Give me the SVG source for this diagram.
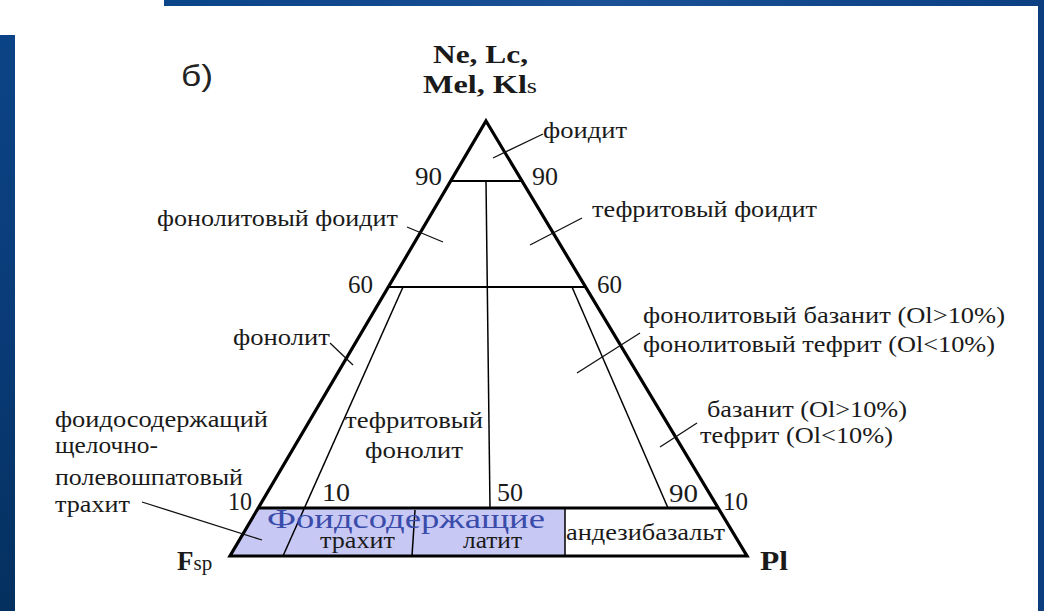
<svg xmlns="http://www.w3.org/2000/svg" width="1044" height="611" viewBox="0 0 1044 611">
<defs>
<linearGradient id="gl" x1="0" y1="0" x2="0" y2="1">
<stop offset="0" stop-color="#0b4486"/>
<stop offset="0.5" stop-color="#0a3b78"/>
<stop offset="1" stop-color="#04305f"/>
</linearGradient>
<linearGradient id="gt" x1="0" y1="0" x2="1" y2="0">
<stop offset="0" stop-color="#0a4489"/>
<stop offset="0.5" stop-color="#1a5096"/>
<stop offset="1" stop-color="#0b3f82"/>
</linearGradient>
</defs>
<style>
.edge{fill:none;stroke:#000;stroke-width:3.2;stroke-linejoin:miter}
.mid{stroke:#000;stroke-width:2.2;fill:none}
.thin{stroke:#000;stroke-width:1.5;fill:none}
.lead{stroke:#111;stroke-width:1.3;fill:none}
</style>
<rect width="1044" height="611" fill="#fff"/>
<g id="background">
<rect x="164" y="0" width="880" height="6" fill="url(#gt)"/>
<rect x="0" y="35" width="15" height="576" fill="url(#gl)"/>
<rect x="1038" y="0" width="6" height="611" fill="#0c3d7d"/>
</g>
<g id="fill-zone">
<polygon points="258,508 565,508 565,556 230,556" fill="#c8c8f5"/>
</g>
<g id="connectors">
<line class="mid" x1="450.7" y1="181" x2="522" y2="181"/>
<line class="mid" x1="388.3" y1="287" x2="585.6" y2="287"/>
<line class="edge" x1="258" y1="508" x2="718" y2="508"/>
<line class="thin" x1="486" y1="181" x2="490" y2="508"/>
<line class="thin" x1="403" y1="287" x2="283" y2="556"/>
<line class="thin" x1="572" y1="287" x2="668" y2="508"/>
<line class="thin" x1="565" y1="508" x2="565" y2="556"/>
<line class="thin" x1="415" y1="510" x2="412" y2="556"/>
<polygon class="edge" points="486,121 747,556 230,556"/>
<line class="lead" x1="543" y1="134" x2="493" y2="158"/>
<line class="lead" x1="407" y1="227" x2="443" y2="242"/>
<line class="lead" x1="582" y1="218" x2="530" y2="245"/>
<line class="lead" x1="330" y1="343" x2="353" y2="365"/>
<line class="lead" x1="640" y1="333" x2="577" y2="373"/>
<line class="lead" x1="697" y1="423" x2="660" y2="447"/>
<line class="lead" x1="142" y1="502" x2="262" y2="540"/>
</g>
<g id="title">
<text x="181" y="86" font-family="Liberation Sans, Arial, sans-serif" font-size="30" fill="#222" textLength="32" lengthAdjust="spacingAndGlyphs">б)</text>
</g>
<g id="apex-label" fill="#1a1a1a">
<text x="433" y="63" font-family="Liberation Serif, Times New Roman, serif" font-weight="bold" font-size="26" textLength="95" lengthAdjust="spacingAndGlyphs">Ne, Lc,</text>
<text x="423" y="93" font-family="Liberation Serif, Times New Roman, serif" font-weight="bold" font-size="26" textLength="114" lengthAdjust="spacingAndGlyphs">Mel, Kl<tspan font-weight="normal" font-size="21">s</tspan></text>
</g>
<g id="corner-labels" fill="#1a1a1a">
<text x="177" y="570" font-family="Liberation Serif, Times New Roman, serif" font-weight="bold" font-size="27">F<tspan font-weight="normal" font-size="21">sp</tspan></text>
<text x="760" y="570" font-family="Liberation Serif, Times New Roman, serif" font-weight="bold" font-size="27" textLength="28" lengthAdjust="spacingAndGlyphs">Pl</text>
</g>
<g id="scale" fill="#1a1a1a">
<text x="415" y="185" font-family="Liberation Serif, Times New Roman, serif" font-size="25" textLength="27" lengthAdjust="spacingAndGlyphs">90</text>
<text x="532" y="185" font-family="Liberation Serif, Times New Roman, serif" font-size="25" textLength="26" lengthAdjust="spacingAndGlyphs">90</text>
<text x="348" y="293" font-family="Liberation Serif, Times New Roman, serif" font-size="25" textLength="25" lengthAdjust="spacingAndGlyphs">60</text>
<text x="597" y="293" font-family="Liberation Serif, Times New Roman, serif" font-size="25" textLength="25" lengthAdjust="spacingAndGlyphs">60</text>
<text x="228" y="510" font-family="Liberation Serif, Times New Roman, serif" font-size="25" textLength="24" lengthAdjust="spacingAndGlyphs">10</text>
<text x="322" y="501" font-family="Liberation Serif, Times New Roman, serif" font-size="25" textLength="28" lengthAdjust="spacingAndGlyphs">10</text>
<text x="497" y="501" font-family="Liberation Serif, Times New Roman, serif" font-size="25" textLength="26" lengthAdjust="spacingAndGlyphs">50</text>
<text x="669" y="502" font-family="Liberation Serif, Times New Roman, serif" font-size="25" textLength="29" lengthAdjust="spacingAndGlyphs">90</text>
<text x="723" y="510" font-family="Liberation Serif, Times New Roman, serif" font-size="25" textLength="25" lengthAdjust="spacingAndGlyphs">10</text>
</g>
<g id="field-labels" fill="#1a1a1a">
<text x="543" y="138" font-family="Liberation Serif, Times New Roman, serif" font-size="23" textLength="84" lengthAdjust="spacingAndGlyphs">фоидит</text>
<text x="157" y="226" font-family="Liberation Serif, Times New Roman, serif" font-size="23" textLength="241" lengthAdjust="spacingAndGlyphs">фонолитовый фоидит</text>
<text x="592" y="217" font-family="Liberation Serif, Times New Roman, serif" font-size="23" textLength="225" lengthAdjust="spacingAndGlyphs">тефритовый фоидит</text>
<text x="643" y="323" font-family="Liberation Serif, Times New Roman, serif" font-size="23" textLength="362" lengthAdjust="spacingAndGlyphs">фонолитовый базанит (Ol&gt;10%)</text>
<text x="643" y="352" font-family="Liberation Serif, Times New Roman, serif" font-size="23" textLength="352" lengthAdjust="spacingAndGlyphs">фонолитовый тефрит (Ol&lt;10%)</text>
<text x="233" y="345" font-family="Liberation Serif, Times New Roman, serif" font-size="23" textLength="97" lengthAdjust="spacingAndGlyphs">фонолит</text>
<text x="345" y="428" font-family="Liberation Serif, Times New Roman, serif" font-size="23" textLength="138" lengthAdjust="spacingAndGlyphs">тефритовый</text>
<text x="365" y="458" font-family="Liberation Serif, Times New Roman, serif" font-size="23" textLength="98" lengthAdjust="spacingAndGlyphs">фонолит</text>
<text x="707" y="417" font-family="Liberation Serif, Times New Roman, serif" font-size="23" textLength="200" lengthAdjust="spacingAndGlyphs">базанит (Ol&gt;10%)</text>
<text x="700" y="443" font-family="Liberation Serif, Times New Roman, serif" font-size="23" textLength="193" lengthAdjust="spacingAndGlyphs">тефрит (Ol&lt;10%)</text>
<text x="55" y="427" font-family="Liberation Serif, Times New Roman, serif" font-size="23" textLength="213" lengthAdjust="spacingAndGlyphs">фоидосодержащий</text>
<text x="55" y="453" font-family="Liberation Serif, Times New Roman, serif" font-size="23" textLength="103" lengthAdjust="spacingAndGlyphs">щелочно-</text>
<text x="55" y="485" font-family="Liberation Serif, Times New Roman, serif" font-size="23" textLength="188" lengthAdjust="spacingAndGlyphs">полевошпатовый</text>
<text x="55" y="512" font-family="Liberation Serif, Times New Roman, serif" font-size="23" textLength="75" lengthAdjust="spacingAndGlyphs">трахит</text>
<text x="267" y="528" font-family="Liberation Serif, Times New Roman, serif" font-size="27" fill="#3a4caa" textLength="278" lengthAdjust="spacingAndGlyphs">Фоидсодержащие</text>
<text x="320" y="548" font-family="Liberation Serif, Times New Roman, serif" font-size="23" textLength="75" lengthAdjust="spacingAndGlyphs">трахит</text>
<text x="463" y="548" font-family="Liberation Serif, Times New Roman, serif" font-size="23" textLength="59" lengthAdjust="spacingAndGlyphs">латит</text>
<text x="566" y="540" font-family="Liberation Serif, Times New Roman, serif" font-size="23" textLength="159" lengthAdjust="spacingAndGlyphs">андезибазальт</text>
</g>
</svg>
